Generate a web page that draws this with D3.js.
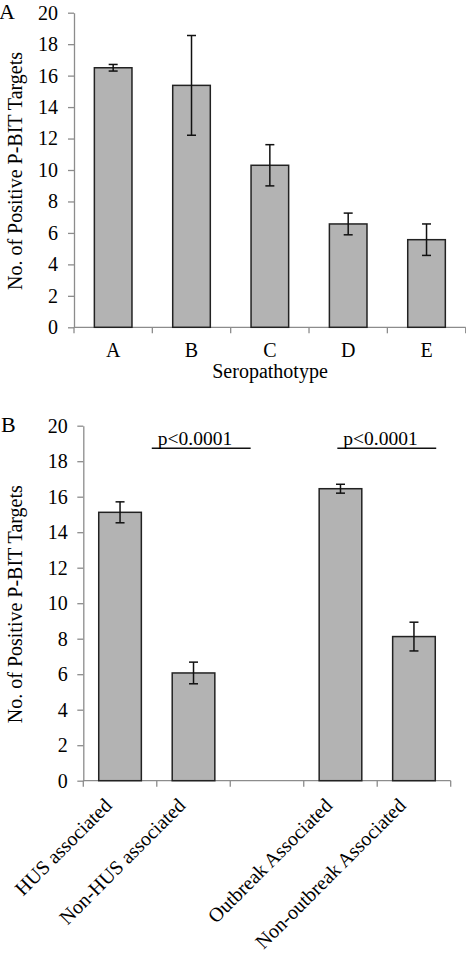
<!DOCTYPE html>
<html>
<head>
<meta charset="utf-8">
<script src="https://cdn.jsdelivr.net/npm/d3@7/dist/d3.min.js"></script>
<style>
  html, body { margin: 0; padding: 0; background: #fff; }
  svg { display: block; }
  text { font-family: "Liberation Serif", "Times New Roman", serif; fill: #000; }
</style>
</head>
<body>
<svg id="chart" width="466" height="953"></svg>
<script>
// ---- Data ----
const catsA = ["A", "B", "C", "D", "E"];
const valsA = [16.5, 15.38, 10.3, 6.57, 5.57];
const errsA = [0.21, 3.17, 1.31, 0.69, 1.0];

const catsB = ["HUS associated", "Non-HUS associated", "", "Outbreak Associated", "Non-outbreak Associated"];
const valsB = [15.12, 6.07, null, 16.45, 8.12];
const errsB = [0.59, 0.61, null, 0.25, 0.81];

const yTicks = [0, 2, 4, 6, 8, 10, 12, 14, 16, 18, 20];
const yTitle = "No. of Positive P-BIT Targets";
const xTitleA = "Seropathotype";
const pLabels = ["p<0.0001", "p<0.0001"];
const pLevel = 18.73;

const svg = d3.select("#chart");
const BAR_FILL = "#b3b3b3", BAR_STROKE = "#222", AXIS = "#8c8c8c";

function panel(opts) {
  const { cats, vals, errs, x0, x1, yTop, yBot, barFrac, tickOffset } = opts;
  const g = svg.append("g");
  const x = d3.scaleBand().domain(cats.map((c, i) => i)).range([x0, x1]).paddingInner(0).paddingOuter(0);
  const y = d3.scaleLinear().domain([0, 20]).range([yBot, yTop]);

  // y axis
  const ya = g.append("g").attr("transform", `translate(${x0},0)`)
    .call(d3.axisLeft(y).tickValues(yTicks).tickSize(6).tickSizeOuter(0).tickPadding(tickOffset));
  ya.select(".domain").attr("stroke", AXIS).attr("stroke-width", 1.3);
  ya.selectAll(".tick line").attr("stroke", AXIS).attr("stroke-width", 1.3);
  ya.selectAll(".tick text").attr("font-size", 20).attr("font-family", "Liberation Serif").attr("fill", "#000");

  // x axis (ticks at band boundaries)
  g.append("line").attr("x1", x0).attr("x2", x1).attr("y1", yBot).attr("y2", yBot)
    .attr("stroke", AXIS).attr("stroke-width", 1.3);
  const bounds = cats.map((c, i) => x(i)).concat([x1]);
  g.selectAll(".xt").data(bounds).enter().append("line")
    .attr("x1", d => d).attr("x2", d => d).attr("y1", yBot).attr("y2", yBot + 6)
    .attr("stroke", AXIS).attr("stroke-width", 1.3);

  const bw = x.bandwidth() * barFrac;
  const data = cats.map((c, i) => ({ c, i, v: vals[i], e: errs[i] })).filter(d => d.v !== null);
  g.selectAll(".bar").data(data).enter().append("rect")
    .attr("x", d => x(d.i) + (x.bandwidth() - bw) / 2)
    .attr("y", d => y(d.v))
    .attr("width", bw)
    .attr("height", d => yBot - y(d.v))
    .attr("fill", BAR_FILL).attr("stroke", BAR_STROKE).attr("stroke-width", 1.5);

  const cap = 4.5;
  const eg = g.selectAll(".err").data(data).enter().append("g");
  eg.append("line").attr("x1", d => x(d.i) + x.bandwidth() / 2).attr("x2", d => x(d.i) + x.bandwidth() / 2)
    .attr("y1", d => y(d.v + d.e)).attr("y2", d => y(d.v - d.e));
  eg.append("line").attr("x1", d => x(d.i) + x.bandwidth() / 2 - cap).attr("x2", d => x(d.i) + x.bandwidth() / 2 + cap)
    .attr("y1", d => y(d.v + d.e)).attr("y2", d => y(d.v + d.e));
  eg.append("line").attr("x1", d => x(d.i) + x.bandwidth() / 2 - cap).attr("x2", d => x(d.i) + x.bandwidth() / 2 + cap)
    .attr("y1", d => y(d.v - d.e)).attr("y2", d => y(d.v - d.e));
  eg.selectAll("line").attr("stroke", "#111").attr("stroke-width", 1.5);

  // y title
  g.append("text").attr("transform", `translate(21.5,${(yTop + yBot) / 2 + 1}) rotate(-90)`)
    .attr("text-anchor", "middle").attr("font-size", 20).text(yTitle);
  return { g, x, y };
}

// Panel A
const A = panel({ cats: catsA, vals: valsA, errs: errsA, x0: 74, x1: 465.7, yTop: 12.7, yBot: 327.3, barFrac: 0.48, tickOffset: 10 });
A.g.selectAll(".xl").data(catsA).enter().append("text")
  .attr("x", (d, i) => A.x(i) + A.x.bandwidth() / 2).attr("y", 356.7)
  .attr("text-anchor", "middle").attr("font-size", 20).text(d => d);
A.g.append("text").attr("x", 270).attr("y", 378.3).attr("text-anchor", "middle").attr("font-size", 20).text(xTitleA);
svg.append("text").attr("x", -1).attr("y", 18.5).attr("font-size", 22).text("A");

// Panel B
const B = panel({ cats: catsB, vals: valsB, errs: errsB, x0: 83.3, x1: 450.7, yTop: 425.7, yBot: 780.7, barFrac: 0.58, tickOffset: 9.6 });
B.g.selectAll(".xl").data(catsB).enter().append("text")
  .attr("transform", (d, i) => `translate(${B.x(i) + B.x.bandwidth() / 2 - 7},${780.7 + 26}) rotate(-45)`)
  .attr("text-anchor", "end").attr("font-size", 20).text(d => d);
svg.append("text").attr("x", 1).attr("y", 432).attr("font-size", 22).text("B");

// significance annotations
const ann = [
  { label: pLabels[0], x1: B.x(1) - 5, x2: B.x(2) + 20.4, tx: 195 },
  { label: pLabels[1], x1: B.x(3) + 33.6, x2: B.x(4) + 59, tx: 380.5 }
];
ann.forEach(a => {
  B.g.append("line").attr("x1", a.x1).attr("x2", a.x2).attr("y1", B.y(pLevel)).attr("y2", B.y(pLevel))
    .attr("stroke", "#111").attr("stroke-width", 1.3);
  B.g.append("text").attr("x", a.tx).attr("y", B.y(pLevel) - 3.5).attr("text-anchor", "middle")
    .attr("font-size", 19.5).text(a.label);
});
</script>
</body>
</html>
